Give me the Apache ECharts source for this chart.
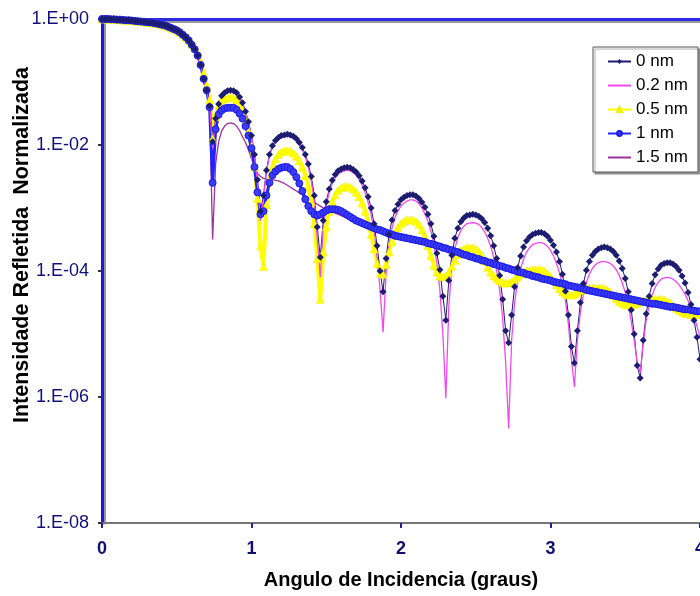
<!DOCTYPE html>
<html><head><meta charset="utf-8">
<script src="https://cdn.jsdelivr.net/npm/echarts@6/dist/echarts.min.js"></script>
<style>html,body{margin:0;padding:0;background:#fff}#c{width:700px;height:596px}</style>
</head><body><div id="c"></div>
<script>
// Incidence angle (degrees)
const angles = [
0,0.02,0.04,0.06,0.08,0.1,0.12,0.14,0.16,0.18,
0.2,0.22,0.24,0.26,0.28,0.3,0.32,0.34,0.36,0.38,
0.4,0.42,0.44,0.46,0.48,0.5,0.52,0.54,0.56,0.58,
0.6,0.62,0.64,0.66,0.68,0.7,0.72,0.74,0.76,0.78,
0.8,0.82,0.84,0.86,0.88,0.9,0.92,0.94,0.96,0.98,
1,1.02,1.04,1.06,1.08,1.1,1.12,1.14,1.16,1.18,
1.2,1.22,1.24,1.26,1.28,1.3,1.32,1.34,1.36,1.38,
1.4,1.42,1.44,1.46,1.48,1.5,1.52,1.54,1.56,1.58,
1.6,1.62,1.64,1.66,1.68,1.7,1.72,1.74,1.76,1.78,
1.8,1.82,1.84,1.86,1.88,1.9,1.92,1.94,1.96,1.98,
2,2.02,2.04,2.06,2.08,2.1,2.12,2.14,2.16,2.18,
2.2,2.22,2.24,2.26,2.28,2.3,2.32,2.34,2.36,2.38,
2.4,2.42,2.44,2.46,2.48,2.5,2.52,2.54,2.56,2.58,
2.6,2.62,2.64,2.66,2.68,2.7,2.72,2.74,2.76,2.78,
2.8,2.82,2.84,2.86,2.88,2.9,2.92,2.94,2.96,2.98,
3,3.02,3.04,3.06,3.08,3.1,3.12,3.14,3.16,3.18,
3.2,3.22,3.24,3.26,3.28,3.3,3.32,3.34,3.36,3.38,
3.4,3.42,3.44,3.46,3.48,3.5,3.52,3.54,3.56,3.58,
3.6,3.62,3.64,3.66,3.68,3.7,3.72,3.74,3.76,3.78,
3.8,3.82,3.84,3.86,3.88,3.9,3.92,3.94,3.96,3.98,
4];

// log10 of normalized reflected intensity
const log0nm = [
0,0,0,-0.005,-0.005,-0.01,-0.01,-0.015,-0.02,-0.02,
-0.025,-0.03,-0.035,-0.04,-0.045,-0.05,-0.055,-0.06,-0.07,-0.08,
-0.09,-0.1,-0.12,-0.14,-0.16,-0.18,-0.21,-0.25,-0.29,-0.34,
-0.41,-0.48,-0.58,-0.73,-0.95,-1.13,-1.38,-1.95,-1.58,-1.35,
-1.22,-1.17,-1.14,-1.13,-1.14,-1.17,-1.24,-1.33,-1.47,-1.63,
-1.85,-2.15,-2.55,-3.05,-2.8,-2.4,-2.15,-2.01,-1.93,-1.88,
-1.85,-1.84,-1.83,-1.84,-1.86,-1.9,-1.96,-2.04,-2.15,-2.3,
-2.5,-2.8,-3.3,-3.78,-3.2,-2.9,-2.7,-2.56,-2.47,-2.41,
-2.38,-2.36,-2.355,-2.36,-2.39,-2.43,-2.49,-2.57,-2.68,-2.82,
-3,-3.25,-3.6,-4,-4.33,-3.8,-3.42,-3.19,-3.04,-2.94,
-2.87,-2.83,-2.8,-2.79,-2.79,-2.81,-2.85,-2.91,-2.99,-3.1,
-3.25,-3.45,-3.72,-3.98,-4.4,-4.78,-4.15,-3.75,-3.48,-3.32,
-3.22,-3.16,-3.12,-3.11,-3.1,-3.11,-3.13,-3.17,-3.23,-3.32,
-3.44,-3.6,-3.8,-4.07,-4.45,-4.95,-5.14,-4.7,-4.25,-3.95,
-3.76,-3.62,-3.52,-3.46,-3.42,-3.4,-3.39,-3.39,-3.41,-3.45,
-3.51,-3.59,-3.7,-3.85,-4.05,-4.32,-4.7,-5.2,-5.46,-4.95,
-4.5,-4.2,-3.99,-3.85,-3.75,-3.69,-3.65,-3.63,-3.62,-3.63,
-3.65,-3.69,-3.75,-3.84,-3.96,-4.12,-4.33,-4.62,-5,-5.5,
-5.7,-5.1,-4.68,-4.4,-4.2,-4.06,-3.97,-3.91,-3.88,-3.87,
-3.87,-3.89,-3.93,-3.99,-4.08,-4.19,-4.34,-4.53,-4.78,-5.05,
-5.4];

const log02nm = [
0,0,0,-0.005,-0.005,-0.01,-0.01,-0.015,-0.02,-0.02,
-0.025,-0.03,-0.035,-0.04,-0.045,-0.05,-0.055,-0.06,-0.07,-0.08,
-0.09,-0.1,-0.12,-0.14,-0.16,-0.18,-0.21,-0.25,-0.29,-0.34,
-0.41,-0.48,-0.58,-0.73,-0.95,-1.13,-1.38,-2.05,-1.6,-1.37,
-1.24,-1.18,-1.16,-1.15,-1.16,-1.19,-1.26,-1.35,-1.49,-1.65,
-1.87,-2.17,-2.6,-3.2,-2.85,-2.43,-2.18,-2.04,-1.96,-1.91,
-1.88,-1.87,-1.86,-1.87,-1.89,-1.93,-1.99,-2.07,-2.19,-2.35,
-2.57,-2.9,-3.5,-4.1,-3.3,-2.96,-2.75,-2.61,-2.52,-2.46,
-2.43,-2.41,-2.4,-2.41,-2.44,-2.48,-2.55,-2.64,-2.76,-2.91,
-3.1,-3.37,-3.78,-4.3,-4.97,-4.05,-3.58,-3.32,-3.15,-3.04,
-2.97,-2.92,-2.89,-2.87,-2.87,-2.89,-2.93,-3,-3.09,-3.21,
-3.37,-3.58,-3.87,-4.3,-5,-6.02,-4.55,-3.95,-3.65,-3.47,
-3.36,-3.29,-3.25,-3.24,-3.23,-3.24,-3.26,-3.31,-3.38,-3.48,
-3.61,-3.78,-4,-4.3,-4.75,-5.45,-6.5,-5.1,-4.5,-4.17,
-3.96,-3.81,-3.7,-3.63,-3.58,-3.56,-3.55,-3.55,-3.57,-3.61,
-3.67,-3.76,-3.88,-4.03,-4.23,-4.48,-4.85,-5.4,-5.84,-5.1,
-4.65,-4.37,-4.18,-4.05,-3.96,-3.9,-3.87,-3.85,-3.85,-3.86,
-3.88,-3.92,-3.98,-4.07,-4.19,-4.34,-4.54,-4.8,-5.1,-5.45,
-5.62,-5.15,-4.78,-4.54,-4.38,-4.26,-4.18,-4.13,-4.11,-4.1,
-4.11,-4.13,-4.17,-4.22,-4.29,-4.37,-4.47,-4.58,-4.72,-4.88,
-5.05];

const log05nm = [
0,0,0,-0.005,-0.005,-0.01,-0.01,-0.015,-0.02,-0.02,
-0.025,-0.03,-0.035,-0.04,-0.045,-0.05,-0.055,-0.06,-0.07,-0.08,
-0.09,-0.1,-0.12,-0.14,-0.16,-0.18,-0.21,-0.25,-0.29,-0.34,
-0.4,-0.46,-0.55,-0.68,-0.86,-1.05,-1.28,-1.9,-1.55,-1.36,
-1.29,-1.26,-1.25,-1.24,-1.25,-1.29,-1.36,-1.46,-1.6,-1.78,
-2.02,-2.35,-2.85,-3.6,-3.93,-2.95,-2.55,-2.35,-2.22,-2.15,
-2.11,-2.09,-2.09,-2.1,-2.13,-2.18,-2.25,-2.35,-2.48,-2.66,
-2.9,-3.25,-3.8,-4.45,-3.7,-3.3,-3.05,-2.9,-2.79,-2.72,
-2.68,-2.66,-2.66,-2.67,-2.7,-2.75,-2.82,-2.92,-3.05,-3.22,
-3.42,-3.65,-3.88,-4.03,-4.05,-3.9,-3.7,-3.53,-3.4,-3.31,
-3.25,-3.21,-3.19,-3.19,-3.19,-3.21,-3.26,-3.34,-3.45,-3.6,
-3.76,-3.91,-4.02,-4.08,-4.09,-4.08,-4.02,-3.93,-3.83,-3.74,
-3.68,-3.65,-3.63,-3.63,-3.63,-3.65,-3.69,-3.75,-3.84,-3.94,
-4.02,-4.08,-4.12,-4.15,-4.18,-4.19,-4.19,-4.17,-4.13,-4.09,
-4.05,-4.02,-4,-3.99,-3.98,-3.98,-3.98,-3.98,-4,-4.04,
-4.09,-4.15,-4.22,-4.28,-4.33,-4.36,-4.38,-4.38,-4.37,-4.34,
-4.31,-4.29,-4.28,-4.27,-4.27,-4.27,-4.27,-4.27,-4.28,-4.3,
-4.34,-4.39,-4.44,-4.48,-4.51,-4.53,-4.54,-4.54,-4.53,-4.51,
-4.49,-4.47,-4.46,-4.45,-4.45,-4.45,-4.45,-4.45,-4.46,-4.48,
-4.51,-4.55,-4.59,-4.62,-4.65,-4.67,-4.68,-4.69,-4.69,-4.69,
-4.68];

const log1nm = [
0,0,0,-0.005,-0.005,-0.01,-0.01,-0.015,-0.02,-0.02,
-0.025,-0.03,-0.035,-0.04,-0.045,-0.05,-0.055,-0.06,-0.07,-0.08,
-0.09,-0.1,-0.12,-0.14,-0.16,-0.18,-0.21,-0.25,-0.29,-0.34,
-0.41,-0.48,-0.58,-0.73,-0.95,-1.13,-1.4,-2.6,-1.75,-1.52,
-1.45,-1.42,-1.41,-1.41,-1.41,-1.44,-1.5,-1.58,-1.7,-1.85,
-2.05,-2.35,-2.75,-3.1,-3.05,-2.8,-2.6,-2.48,-2.42,-2.38,
-2.36,-2.35,-2.35,-2.38,-2.43,-2.51,-2.61,-2.73,-2.86,-2.97,
-3.05,-3.1,-3.12,-3.1,-3.07,-3.04,-3.02,-3.02,-3.02,-3.03,
-3.05,-3.08,-3.11,-3.14,-3.17,-3.2,-3.22,-3.24,-3.26,-3.28,
-3.3,-3.32,-3.34,-3.35,-3.37,-3.39,-3.41,-3.42,-3.44,-3.45,
-3.46,-3.47,-3.48,-3.49,-3.5,-3.51,-3.52,-3.53,-3.54,-3.56,
-3.57,-3.58,-3.6,-3.61,-3.63,-3.64,-3.66,-3.67,-3.69,-3.7,
-3.72,-3.74,-3.75,-3.77,-3.78,-3.8,-3.81,-3.83,-3.84,-3.86,
-3.87,-3.89,-3.9,-3.92,-3.93,-3.95,-3.96,-3.98,-3.99,-4.01,
-4.02,-4.03,-4.05,-4.06,-4.08,-4.09,-4.1,-4.12,-4.13,-4.14,
-4.15,-4.17,-4.18,-4.19,-4.2,-4.21,-4.23,-4.24,-4.25,-4.26,
-4.27,-4.28,-4.3,-4.31,-4.32,-4.33,-4.34,-4.35,-4.36,-4.37,
-4.38,-4.39,-4.4,-4.41,-4.42,-4.43,-4.44,-4.45,-4.46,-4.47,
-4.48,-4.49,-4.5,-4.51,-4.52,-4.52,-4.53,-4.54,-4.55,-4.56,
-4.57,-4.57,-4.58,-4.59,-4.6,-4.61,-4.61,-4.62,-4.63,-4.64,
-4.64];

const log15nm = [
0,0,0,-0.005,-0.005,-0.01,-0.01,-0.015,-0.02,-0.02,
-0.025,-0.03,-0.035,-0.04,-0.045,-0.05,-0.055,-0.06,-0.07,-0.08,
-0.09,-0.1,-0.12,-0.14,-0.16,-0.18,-0.21,-0.25,-0.29,-0.34,
-0.41,-0.48,-0.58,-0.73,-0.95,-1.13,-1.45,-3.5,-2.3,-1.95,
-1.78,-1.7,-1.66,-1.65,-1.66,-1.7,-1.77,-1.87,-1.96,-2.08,
-2.22,-2.35,-2.45,-2.5,-2.53,-2.54,-2.54,-2.55,-2.56,-2.57,
-2.59,-2.61,-2.64,-2.67,-2.7,-2.73,-2.76,-2.79,-2.82,-2.85,
-2.88,-2.91,-2.94,-2.97,-3,-3.02,-3.04,-3.06,-3.08,-3.1,
-3.12,-3.14,-3.16,-3.18,-3.2,-3.22,-3.23,-3.25,-3.26,-3.28,
-3.29,-3.31,-3.32,-3.34,-3.36,-3.38,-3.4,-3.42,-3.44,-3.45,
-3.46,-3.47,-3.48,-3.49,-3.5,-3.51,-3.52,-3.53,-3.54,-3.56,
-3.57,-3.58,-3.6,-3.61,-3.63,-3.64,-3.66,-3.67,-3.69,-3.7,
-3.72,-3.74,-3.75,-3.77,-3.78,-3.8,-3.81,-3.83,-3.84,-3.86,
-3.87,-3.89,-3.9,-3.92,-3.93,-3.95,-3.96,-3.98,-3.99,-4.01,
-4.02,-4.03,-4.05,-4.06,-4.08,-4.09,-4.1,-4.12,-4.13,-4.14,
-4.15,-4.17,-4.18,-4.19,-4.2,-4.21,-4.23,-4.24,-4.25,-4.26,
-4.27,-4.28,-4.3,-4.31,-4.32,-4.33,-4.34,-4.35,-4.36,-4.37,
-4.38,-4.39,-4.4,-4.41,-4.42,-4.43,-4.44,-4.45,-4.46,-4.47,
-4.48,-4.49,-4.5,-4.51,-4.52,-4.52,-4.53,-4.54,-4.55,-4.56,
-4.57,-4.57,-4.58,-4.59,-4.6,-4.61,-4.61,-4.62,-4.63,-4.64,
-4.64];

const seriesNames = ['0 nm', '0.2 nm', '0.5 nm', '1 nm', '1.5 nm'];
const xTicks = [0, 1, 2, 3, 4];
const yTickLabels = {'-8': '1.E-08', '-6': '1.E-06', '-4': '1.E-04', '-2': '1.E-02', '0': '1.E+00'};

const toData = arr => angles.map((a, i) => [a, Math.pow(10, arr[i])]);
const FONT = "'Liberation Sans', Arial, sans-serif";

const chart = echarts.init(document.getElementById('c'), null, {renderer: 'canvas'});
chart.setOption({
  animation: false,
  backgroundColor: '#ffffff',
  grid: {left: 102, right: 0, top: 19, bottom: 73, containLabel: false, outerBoundsMode: 'none'},
  legend: {
    data: [
      {name: seriesNames[0]},
      {name: seriesNames[1], itemStyle: {opacity: 0}},
      {name: seriesNames[2]},
      {name: seriesNames[3]},
      {name: seriesNames[4], itemStyle: {opacity: 0}}
    ],
    orient: 'vertical',
    left: 593, top: 47,
    padding: [6, 10, 6, 14],
    itemWidth: 23, itemHeight: 6, itemGap: 7,
    backgroundColor: '#ffffff',
    borderColor: '#555555', borderWidth: 1,
    shadowColor: 'rgba(0,0,0,0.35)', shadowOffsetX: 2, shadowOffsetY: 2, shadowBlur: 1,
    textStyle: {fontFamily: FONT, fontSize: 17, color: '#000000'}
  },
  xAxis: [{
    type: 'value', min: 0, max: 4, interval: 1,
    name: 'Angulo de Incidencia (graus)', nameLocation: 'middle', nameGap: 47,
    nameTextStyle: {fontFamily: FONT, fontSize: 20, fontWeight: 'bold', color: '#000000'},
    axisLine: {lineStyle: {color: '#777777', width: 2}},
    axisTick: {show: true, length: 5, lineStyle: {color: '#2020a0', width: 2}},
    axisLabel: {fontFamily: FONT, fontSize: 18, fontWeight: 'bold', color: '#10106e', margin: 17,
      formatter: v => String(xTicks[xTicks.indexOf(v)])},
    splitLine: {show: false}
  }, {
    type: 'value', min: 0, max: 4, position: 'top',
    axisLine: {lineStyle: {color: '#2b2be6', width: 3, shadowColor: 'rgba(0,0,0,0.4)', shadowOffsetY: 2}},
    axisTick: {show: false}, axisLabel: {show: false}, splitLine: {show: false}
  }],
  yAxis: {
    type: 'log', logBase: 10, min: 1e-8, max: 1, interval: 2,
    axisLine: {show: true, lineStyle: {color: '#1a1ad8', width: 3, shadowColor: 'rgba(0,0,0,0.4)', shadowOffsetX: 2}},
    axisTick: {show: true, length: 4, lineStyle: {color: '#333333', width: 2}},
    axisLabel: {fontFamily: FONT, fontSize: 18, color: '#10107a', margin: 13,
      formatter: v => yTickLabels[String(Math.round(Math.log10(v)))] || ''},
    minorTick: {show: false},
    splitLine: {show: false}
  },
  graphic: [{
    type: 'text', x: 22, y: 245, rotation: Math.PI / 2,
    style: {text: 'Intensidade Refletida  Normalizada', font: "bold 21.5px 'Liberation Sans', Arial, sans-serif",
      fill: '#000000', align: 'center', verticalAlign: 'middle'}
  }],
  series: [
    {name: seriesNames[4], type: 'line', data: toData(log15nm), symbol: 'none',
      lineStyle: {color: '#a0309c', width: 1.3}, itemStyle: {color: '#a0309c'}},
    {name: seriesNames[2], type: 'line', data: toData(log05nm), symbol: 'triangle', symbolSize: 8, showAllSymbol: true,
      lineStyle: {color: '#ffff00', width: 4}, itemStyle: {color: '#ffff00', borderColor: '#eeee00', borderWidth: 0.5}},
    {name: seriesNames[3], type: 'line', data: toData(log1nm), symbol: 'circle', symbolSize: 7, showAllSymbol: true,
      lineStyle: {color: '#2222ff', width: 3}, itemStyle: {color: '#3c3cff', borderColor: '#1a1ae0', borderWidth: 1}},
    {name: seriesNames[0], type: 'line', data: toData(log0nm), symbol: 'diamond', symbolSize: 7, showAllSymbol: true,
      lineStyle: {color: '#1c1c72', width: 1}, itemStyle: {color: '#1c1c72'}},
    {name: seriesNames[1], type: 'line', data: toData(log02nm), symbol: 'none',
      lineStyle: {color: '#f048f0', width: 1.3}, itemStyle: {color: '#f048f0'}}
  ]
});
</script>
</body></html>
